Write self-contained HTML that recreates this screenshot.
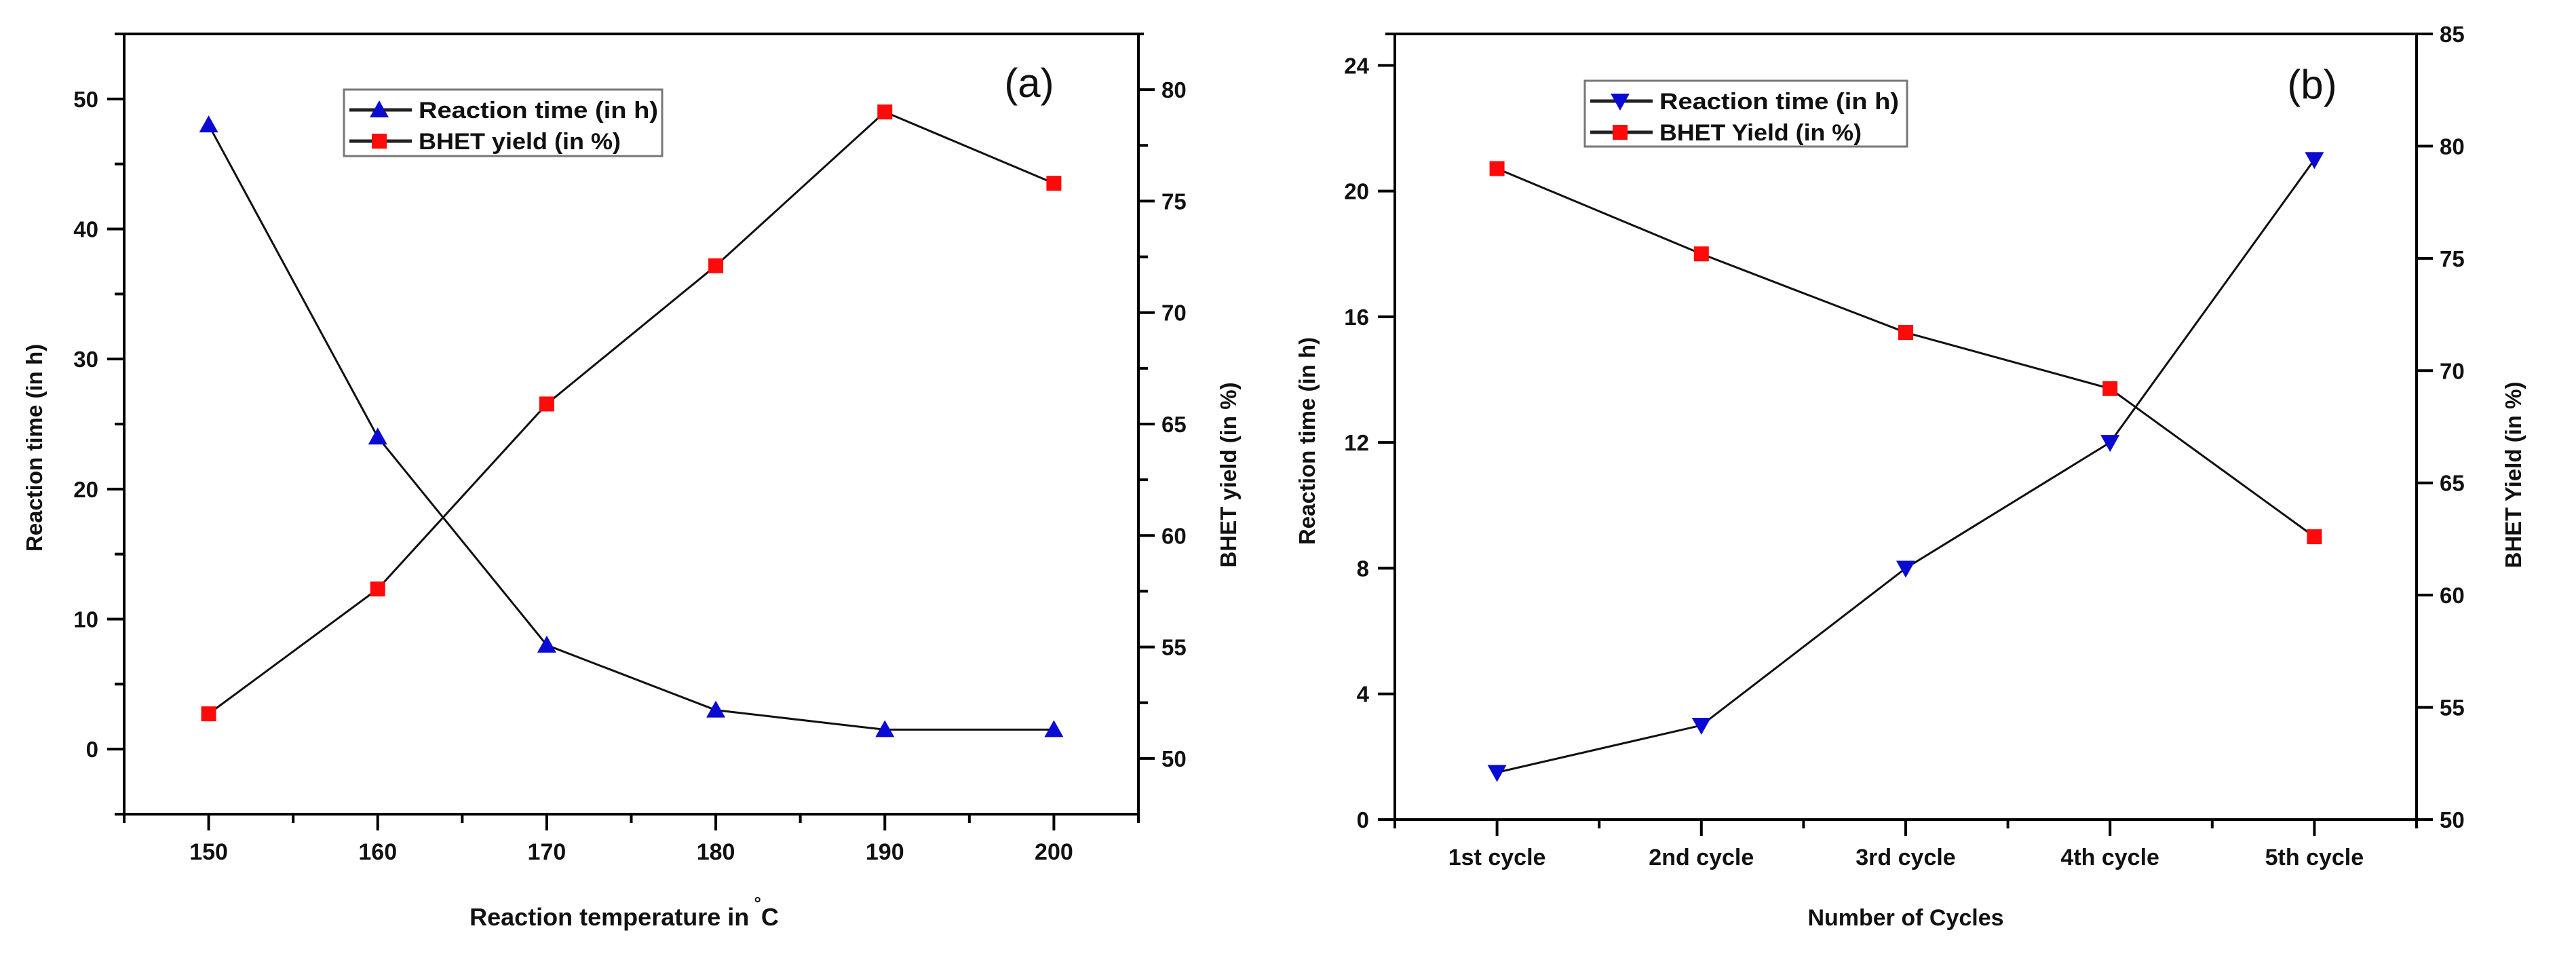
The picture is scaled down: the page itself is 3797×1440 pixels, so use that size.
<!DOCTYPE html>
<html><head><meta charset="utf-8"><style>
html,body{margin:0;padding:0;background:#fff;}
svg{display:block;font-family:"Liberation Sans",Arial,sans-serif;}
</style></head><body>
<svg id="fig" width="3797" height="1440" viewBox="0 0 3797 1440" xmlns="http://www.w3.org/2000/svg"></svg>
<script>
// ---- Panel (a) data ----
const tempCategories = [150, 160, 170, 180, 190, 200];
const tempReactionTime = [48, 24, 8, 3, 1.5, 1.5];
const tempBhetYield = [52, 57.6, 65.9, 72.1, 79, 75.8];
const aLeftTicks = [0, 10, 20, 30, 40, 50];
const aRightTicks = [50, 55, 60, 65, 70, 75, 80];
const aXTicks = [150, 160, 170, 180, 190, 200];
// ---- Panel (b) data ----
const cycleCategories = ["1st cycle", "2nd cycle", "3rd cycle", "4th cycle", "5th cycle"];
const cycleReactionTime = [1.5, 3, 8, 12, 21];
const cycleBhetYield = [79, 75.2, 71.7, 69.2, 62.6];
const bLeftTicks = [0, 4, 8, 12, 16, 20, 24];
const bRightTicks = [50, 55, 60, 65, 70, 75, 80, 85];

const NS = "http://www.w3.org/2000/svg";
const svg = document.getElementById('fig');
function mk(tag, attrs, parent, text) {
  const e = document.createElementNS(NS, tag);
  for (const k in attrs) e.setAttribute(k, attrs[k]);
  if (text !== undefined) e.textContent = text;
  (parent || svg).appendChild(e);
  return e;
}
function linScale(d0, d1, r0, r1) { return v => r0 + (v - d0) * (r1 - r0) / (d1 - d0); }
function triUp(g, cx, cy, name) {
  const p = mk('polygon', {points: `${cx-14},${cy+11} ${cx+14},${cy+11} ${cx},${cy-14}`, fill: '#0a0ad2'}, g);
  
  
}
function triDown(g, cx, cy, name) {
  const p = mk('polygon', {points: `${cx-14},${cy-11} ${cx+14},${cy-11} ${cx},${cy+14}`, fill: '#0a0ad2'}, g);
  
  
}
function sq(g, cx, cy, name) {
  const r = mk('rect', {x: cx-11, y: cy-11, width: 22, height: 22, fill: '#ff0a0a'}, g);
  
  
}

function panel(cfg) {
  const g = mk('g', {});
  
  
  const {L, R, T, B} = cfg;
  const x = linScale(cfg.xMin, cfg.xMax, L, R);
  const yl = linScale(cfg.ylMin, cfg.ylMax, B, T);
  const yr = linScale(cfg.yrMin, cfg.yrMax, B, T);
  const ax = {stroke: '#000', 'stroke-width': 4, fill: 'none'};
  const f = mk('path', Object.assign({d: `M${L-14},${T} H${R+8} M${L},${T-2} V${B+12} M${R},${T-2} V${B+2} M${L-14},${B} H${R}`}, ax), g);
  
  
  cfg.leftTicks.forEach(v => {
    const yy = yl(v);
    mk('line', Object.assign({x1: L-25, x2: L, y1: yy, y2: yy}, ax), g);
    const t = mk('text', {x: L-38, y: yy+12, 'text-anchor': 'end', 'font-size': 33, 'font-weight': 'bold', fill: '#111'}, g, String(v));
    
    
  });
  if (cfg.leftMinor) cfg.leftMinor.forEach(v => mk('line', Object.assign({x1: L-14, x2: L, y1: yl(v), y2: yl(v)}, ax), g));
  cfg.rightTicks.forEach(v => {
    const yy = yr(v);
    mk('line', Object.assign({x1: R, x2: R+24, y1: yy, y2: yy}, ax), g);
    const t = mk('text', {x: R+34, y: yy+12, 'text-anchor': 'start', 'font-size': 33, 'font-weight': 'bold', fill: '#111'}, g, String(v));
    
    
  });
  if (cfg.rightMinor) cfg.rightMinor.forEach(v => mk('line', Object.assign({x1: R, x2: R+14, y1: yr(v), y2: yr(v)}, ax), g));
  cfg.xTicks.forEach((v, i) => {
    const xx = x(v);
    mk('line', Object.assign({x1: xx, x2: xx, y1: B, y2: B+24}, ax), g);
    const t = mk('text', {x: xx, y: B+67, 'text-anchor': 'middle', 'font-size': 34, 'font-weight': 'bold', fill: '#111'}, g, cfg.xLabels[i]);
    
    
  });
  cfg.xMinor.forEach(v => mk('line', Object.assign({x1: x(v), x2: x(v), y1: B, y2: B+13}, ax), g));
  const lineAttrs = {fill: 'none', stroke: '#111', 'stroke-width': 3};
  const p1 = mk('polyline', Object.assign({points: cfg.xs.map((v, i) => `${x(v)},${yl(cfg.timeVals[i])}`).join(' ')}, lineAttrs), g);
  
  
  const p2 = mk('polyline', Object.assign({points: cfg.xs.map((v, i) => `${x(v)},${yr(cfg.yieldVals[i])}`).join(' ')}, lineAttrs), g);
  
  
  cfg.xs.forEach((v, i) => {
    if (cfg.down) triDown(g, x(v), yl(cfg.timeVals[i]), 'reaction-time-point');
    else triUp(g, x(v), yl(cfg.timeVals[i]), 'reaction-time-point');
    sq(g, x(v), yr(cfg.yieldVals[i]), 'bhet-yield-point');
  });
  const lg = mk('g', {}, g);
  
  
  const lb = cfg.legend;
  mk('rect', {x: lb.x, y: lb.y, width: lb.w, height: lb.h, fill: '#fff', stroke: '#777', 'stroke-width': 3}, lg);
  const r1 = lb.y + 30, r2 = lb.y + 76;
  [r1, r2].forEach((ry, k) => {
    const e = mk('g', {}, lg);
    
    
    mk('line', {x1: lb.x+8, x2: lb.x+100, y1: ry, y2: ry, stroke: '#222', 'stroke-width': 5}, e);
    const mx = lb.x + 52;
    if (k === 0) { if (cfg.down) triDown(e, mx, ry, 'legend-marker'); else triUp(e, mx, ry, 'legend-marker'); }
    else sq(e, mx, ry, 'legend-marker');
    const attrs = {x: lb.x+110, y: ry+12, 'font-size': 34, 'font-weight': 'bold', fill: '#111'};
    if (k === 0) { attrs.textLength = 353; attrs.lengthAdjust = 'spacingAndGlyphs'; }
    else { attrs.textLength = 298; attrs.lengthAdjust = 'spacingAndGlyphs'; }
    const t = mk('text', attrs, e, k === 0 ? 'Reaction time (in h)' : cfg.yieldLegend);
    
    
  });
  const pl = mk('text', {x: cfg.tag.x, y: cfg.tag.y + 20, 'text-anchor': 'middle', 'font-size': 60, fill: '#111'}, g, cfg.tag.text);
  
  
  const lt = mk('text', {x: 0, y: 0, transform: `translate(${cfg.lTitle.x},${cfg.lTitle.y}) rotate(-90)`, 'text-anchor': 'middle', 'font-size': 33, 'font-weight': 'bold', fill: '#111'}, g, 'Reaction time (in h)');
  
  
  const rt = mk('text', {x: 0, y: 0, transform: `translate(${cfg.rTitle.x},${cfg.rTitle.y}) rotate(-90)`, 'text-anchor': 'middle', 'font-size': 33, 'font-weight': 'bold', fill: '#111'}, g, cfg.rTitle.text);
  
  
  const bt = mk('text', {x: cfg.bTitle.x, y: cfg.bTitle.y, 'text-anchor': 'middle', 'font-size': cfg.bTitle.size, 'font-weight': 'bold', fill: '#111'}, g);
  
  
  bt.textContent = cfg.bTitle.text;
  if (cfg.bTitle.deg) {
    mk('tspan', {dy: -24, 'font-size': 26}, bt, ' °');
    mk('tspan', {dy: 24}, bt, 'C');
  }
}

panel({
  name: 'panel-a-temperature-chart', L: 183, R: 1678, T: 50, B: 1200,
  xMin: 145, xMax: 205, ylMin: -5, ylMax: 55, yrMin: 47.5, yrMax: 82.5,
  leftTicks: aLeftTicks, leftMinor: [-5, 5, 15, 25, 35, 45],
  rightTicks: aRightTicks, rightMinor: [52.5, 57.5, 62.5, 67.5, 72.5, 77.5],
  xTicks: aXTicks, xLabels: aXTicks.map(String), xMinor: [145, 155, 165, 175, 185, 195, 205],
  xs: tempCategories, timeVals: tempReactionTime, yieldVals: tempBhetYield, down: false,
  legend: {x: 507, y: 132, w: 469, h: 98}, yieldLegend: 'BHET yield (in %)',
  tag: {x: 1517, y: 123, text: '(a)'},
  lTitle: {x: 62, y: 660}, rTitle: {x: 1822, y: 700, text: 'BHET yield (in %)'},
  bTitle: {x: 920, y: 1364, size: 36, text: 'Reaction temperature in', deg: true}
});
panel({
  name: 'panel-b-cycles-chart', L: 2056, R: 3562, T: 50, B: 1208,
  xMin: 0.5, xMax: 5.5, ylMin: 0, ylMax: 25, yrMin: 50, yrMax: 85,
  leftTicks: bLeftTicks, leftMinor: null,
  rightTicks: bRightTicks, rightMinor: null,
  xTicks: [1, 2, 3, 4, 5], xLabels: cycleCategories, xMinor: [0.5, 1.5, 2.5, 3.5, 4.5, 5.5],
  xs: [1, 2, 3, 4, 5], timeVals: cycleReactionTime, yieldVals: cycleBhetYield, down: true,
  legend: {x: 2336, y: 119, w: 475, h: 97}, yieldLegend: 'BHET Yield (in %)',
  tag: {x: 3408, y: 125, text: '(b)'},
  lTitle: {x: 1938, y: 650}, rTitle: {x: 3716, y: 700, text: 'BHET Yield (in %)'},
  bTitle: {x: 2809, y: 1364, size: 34, text: 'Number of Cycles', deg: false}
});
</script>
</body></html>
